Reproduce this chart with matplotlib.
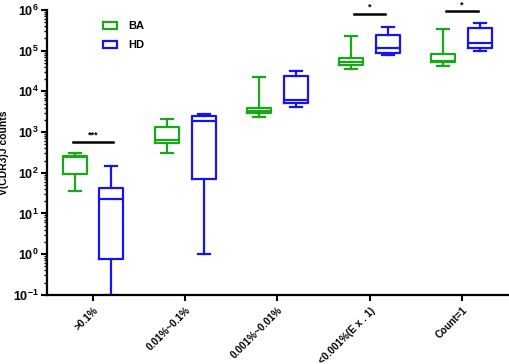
import numpy as np
import matplotlib
matplotlib.use("Agg")
import matplotlib.pyplot as plt
import matplotlib.patches as mpatches
from matplotlib.ticker import FuncFormatter, LogLocator

plt.rcParams['font.family'] = ['Liberation Sans', 'DejaVu Sans']
plt.rcParams['font.weight'] = 'bold'
plt.rcParams['mathtext.fontset'] = 'custom'
plt.rcParams['mathtext.bf'] = 'Liberation Sans:bold'
plt.rcParams['mathtext.rm'] = 'Liberation Sans:bold'

categories = ['>0.1%', '0.01%~0.1%', '0.001%~0.01%', '<0.001%(E x . 1)', 'Count=1']

# whisker low, q1, median, q3, whisker high
ba_low = [35, 310, 2350, 35000, 42000]
ba_q1 = [95, 540, 2950, 45000, 52000]
ba_med = [240, 630, 3300, 52000, 56000]
ba_q3 = [257, 1350, 3900, 66000, 85000]
ba_high = [309, 2100, 22000, 230000, 340000]

hd_low = [0.1, 1.0, 4200, 79000, 98000]
hd_q1 = [0.76, 71, 5200, 89000, 117000]
hd_med = [23, 1860, 6200, 117000, 155000]
hd_q3 = [43, 2500, 24000, 240000, 360000]
hd_high = [148, 2750, 31500, 380000, 480000]

sig_groups = [0, 3, 4]
sig_labels = ['***', '*', '*']
sig_heights = [575, 800000, 940000]

green = '#1aa81a'
blue = '#1414f0'


def make_stats(low, q1, med, q3, high):
    stats = []
    for i in range(len(low)):
        stats.append({'whislo': low[i], 'q1': q1[i], 'med': med[i],
                      'q3': q3[i], 'whishi': high[i], 'fliers': []})
    return stats


fig = plt.figure(figsize=(5.1, 3.64), dpi=100)
ax = fig.add_axes([0.092, 0.19, 0.904, 0.7825])

pos = np.arange(len(categories))
for stats, offset, color in [(make_stats(ba_low, ba_q1, ba_med, ba_q3, ba_high), -0.2, green),
                             (make_stats(hd_low, hd_q1, hd_med, hd_q3, hd_high), 0.2, blue)]:
    props = dict(color=color, linewidth=1.6)
    ax.bxp(stats, positions=pos + offset, widths=0.26, showfliers=False,
           boxprops=props, whiskerprops=props, capprops=props,
           medianprops=props, manage_ticks=False)

for g, lab, h in zip(sig_groups, sig_labels, sig_heights):
    half = 0.22 if g == 0 else 0.17
    ax.plot([g - half, g + half], [h, h], color='black', lw=1.8, clip_on=False)
    ax.text(g, h * 1.12, lab, ha='center', va='bottom', fontsize=6.5,
            fontweight='bold', clip_on=False)

ax.set_yscale('log')
ax.set_ylim(0.1, 1e6)
ax.set_xlim(-0.5, 4.5)
ax.yaxis.set_major_locator(LogLocator(base=10, numticks=10))
ax.yaxis.set_minor_locator(LogLocator(base=10, subs=np.arange(2, 10), numticks=20))
ax.yaxis.set_major_formatter(FuncFormatter(
    lambda v, p: r'$\mathbf{10^{%d}}$' % int(round(np.log10(v)))))
ax.yaxis.set_minor_formatter(FuncFormatter(lambda v, p: ''))

ax.set_xticks(pos)
ax.set_xticklabels(categories, rotation=45, ha='right', rotation_mode='anchor',
                   fontsize=7.2, fontweight='bold')
ax.tick_params(axis='y', which='major', labelsize=9, width=1.5, length=4, pad=2)
ax.tick_params(axis='y', which='minor', width=1, length=2)
ax.tick_params(axis='x', width=1.5, length=4)

for s in ['top', 'right']:
    ax.spines[s].set_visible(False)
for s in ['left', 'bottom']:
    ax.spines[s].set_linewidth(1.6)

ax.set_ylabel('V(CDR3)J counts', fontsize=7.5, fontweight='bold', labelpad=3)

handles = [mpatches.Patch(facecolor='white', edgecolor=green, lw=1.6, label='BA'),
           mpatches.Patch(facecolor='white', edgecolor=blue, lw=1.6, label='HD')]
ax.legend(handles=handles, loc='upper left', bbox_to_anchor=(0.1, 0.995),
          frameon=False, fontsize=8, handlelength=1.3, handleheight=0.5,
          labelspacing=0.8, handletextpad=1.0)

fig.savefig('out.png', dpi=100)
